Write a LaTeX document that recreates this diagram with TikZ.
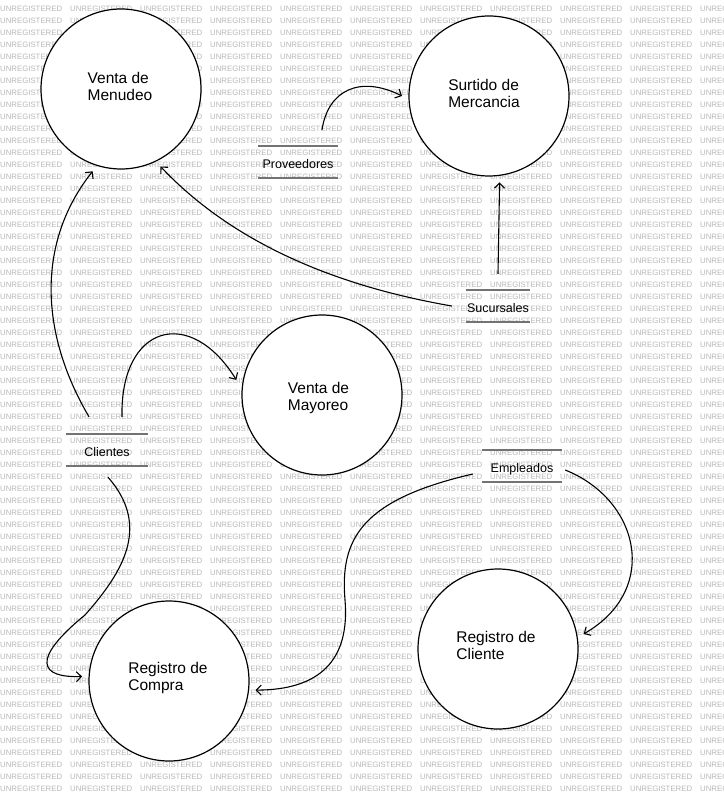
\documentclass[tikz,border=0pt]{standalone}
\usepackage{fontspec}
\setmainfont{Liberation Sans}
\usetikzlibrary{arrows.meta}
\begin{document}
\begin{tikzpicture}[x=1pt,y=-1pt,
  proc/.style={circle, draw=black, line width=1.2pt, fill=white, minimum size=160pt, inner sep=0pt, outer sep=7pt},
  proctext/.style={align=left, inner sep=0pt, font=\fontsize{15.5}{17}\selectfont},
  store/.style={minimum width=80pt, minimum height=32pt, inner sep=0pt, text height=13.5pt, text depth=0pt, font=\fontsize{12.5}{14}\selectfont},
  storeline/.style={draw=black!55, line width=1.6pt},
  flow/.style={draw=black, line width=1.1pt, -{Straight Barb[length=5pt,width=10pt]}},
  wm/.style={anchor=west, inner sep=0pt, text=black!28, font=\fontsize{7.8}{8}\selectfont}
]
\fill[white] (0,0) rectangle (723,802);
\useasboundingbox (0,0) rectangle (723,802);
\begin{scope}
\clip (0,0) rectangle (723,802);
\foreach \r in {0,...,65} {\foreach \c in {0,...,10} {\node[wm] (wm-\r-\c) at (\c*70, 8.5+\r*12) {UNREGISTERED};}}
\end{scope}

\node[proc] (menu) at (121,89) {};
\node[proc] (surt) at (489,96) {};
\node[proc] (mayo) at (322,395) {};
\node[proc] (clie) at (498,649) {};
\node[proc] (comp) at (169,681) {};
\node[proctext] (menu-t) at (120,86) {Venta de\\Menudeo};
\node[proctext] (surt-t) at (484,93) {Surtido de\\Mercancia};
\node[proctext] (mayo-t) at (318.5,398) {Venta de\\Mayoreo};
\node[proctext] (clie-t) at (496,645.5) {Registro de\\Cliente};
\node[proctext] (comp-t) at (168,677.5) {Registro de\\Compra};

\node[store] (prov) at (298,162) {Proveedores};
\node[store, minimum width=64pt] (suc) at (498,306) {Sucursales};
\node[store, minimum width=82pt] (cli) at (107,450) {Clientes};
\node[store] (emp) at (522,466) {Empleados};
\foreach \s in {prov,suc,cli,emp} {
  \draw[storeline] (\s.north west) -- (\s.north east);
  \draw[storeline] (\s.south west) -- (\s.south east);
}

\draw[flow] ([xshift=24pt,yshift=16pt]prov.north) .. controls (328,90) and (360,75) .. (surt.180);
\draw[flow] ([yshift=16pt]suc.north) -- (surt.277);
\draw[flow] ([xshift=-14pt]suc.west) .. controls (330,285) and (230,240) .. (menu.297);
\draw[flow] ([xshift=-18pt,yshift=17pt]cli.north) .. controls (38,330) and (38,240) .. (menu.251);
\draw[flow] ([xshift=15pt,yshift=17pt]cli.north) .. controls (120,325) and (190,305) .. (mayo.170);
\draw[flow] ([xshift=1pt,yshift=-11pt]cli.south) .. controls (150,525) and (125,570) .. (85,615) .. controls (30,660) and (40,678) .. (comp.177);
\draw[flow] ([xshift=-9pt,yshift=-8pt]emp.west) .. controls (360,500) and (340,540) .. (345,600) .. controls (350,660) and (320,690) .. (comp.354);
\draw[flow] ([xshift=3pt,yshift=-4pt]emp.east) .. controls (640,500) and (660,590) .. (clie.10);
\end{tikzpicture}
\end{document}
